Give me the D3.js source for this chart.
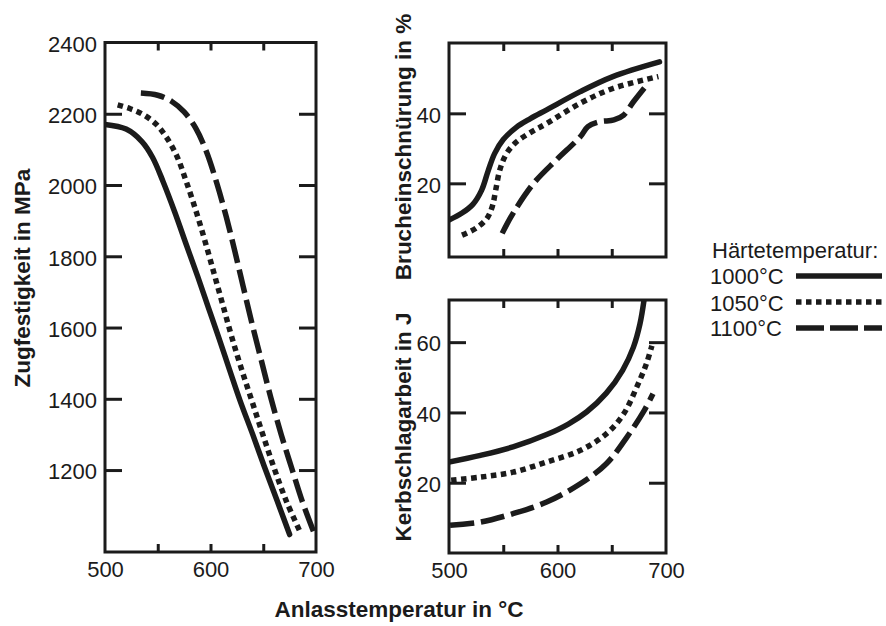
<!DOCTYPE html>
<html><head><meta charset="utf-8">
<script src="https://cdn.jsdelivr.net/npm/d3@7"></script>
<style>
html,body{margin:0;padding:0;background:#fff;}
svg{display:block;font-family:"Liberation Sans",Arial,sans-serif;}
</style></head>
<body>
<svg id="c" width="886" height="626"></svg>
<script>
// ---- data ----
const seriesNames = ["1000°C", "1050°C", "1100°C"];
const legendTitle = "Härtetemperatur:";
const xTitle = "Anlasstemperatur in °C";
const zugTitle = "Zugfestigkeit in MPa";
const bruchTitle = "Brucheinschnürung in %";
const kerbTitle = "Kerbschlagarbeit in J";

const xLabelTicks = [500, 600, 700];
const xMinorTicks = [550, 600, 650];
const zugTicks = [2400, 2200, 2000, 1800, 1600, 1400, 1200];
const bruchTicks = [20, 40];
const kerbTicks = [20, 40, 60];

// Zugfestigkeit (MPa) vs Anlasstemperatur
const zug1000 = [[500,2170],[520,2157],[535,2122],[545,2078],[555,2010],[566,1925],[577,1833],[588,1742],[598,1656],[608,1570],[618,1482],[628,1395],[640,1300],[651,1210],[663,1115],[675,1019]];
const zug1050 = [[512,2225],[524,2214],[536,2198],[548,2172],[558,2135],[568,2082],[577,2010],[587,1920],[596,1830],[604,1745],[612,1660],[620,1575],[629,1487],[639,1396],[649,1305],[660,1208],[672,1112],[686,1020]];
const zug1100 = [[534,2258],[550,2252],[563,2235],[575,2205],[586,2160],[596,2095],[606,2005],[615,1910],[623,1815],[631,1715],[639,1615],[648,1510],[657,1405],[667,1300],[677,1205],[687,1112],[698,1025]];

// Brucheinschnürung (%)
const bruch1000 = [[500,9.5],[512,11.5],[522,14],[530,18],[536,23.5],[542,28.5],[550,32.5],[562,36],[575,38.5],[590,41],[621,46.2],[651,50.5],[694,54.7]];
const bruch1050 = [[512,5.2],[525,7.2],[535,10],[540,13.5],[543,18],[547,24],[553,28.5],[562,31.8],[575,34.5],[590,37.1],[621,42.9],[651,47.1],[693,50.5]];
const bruch1100 = [[549,5.7],[559,11.4],[578,20],[599,26.7],[621,33.3],[628,36.2],[639,37.6],[652,38.1],[661,39.5],[670,43.3],[681,47.6]];

// Kerbschlagarbeit (J)
const kerb1000 = [[500,25.9],[529,27.8],[559,30.2],[590,33.7],[610,36.7],[627,40.2],[645,45.5],[660,52],[670,58.6],[676,65.2],[680,72.5]];
const kerb1050 = [[502,20.7],[529,21.6],[559,23],[590,25.9],[621,29.2],[645,33.9],[661,39.6],[673,47.2],[682,53.9],[687,59]];
const kerb1100 = [[501,7.9],[529,8.8],[559,11.2],[590,14.5],[621,19.7],[645,25.4],[664,33],[680,40.6],[688,45.3]];

// ---- styles ----
const INK = "#1b1b1b";
const styles = [
  {dash: null, cap: "round"},
  {dash: "5.5,4.5", cap: "butt"},
  {dash: "24,7", cap: "butt"}
];
const LW = 5.5;

const svg = d3.select("#c");

function panel(id, x0, x1, y0, y1, yDomain, yTicks, showXLabels, series) {
  const x = d3.scaleLinear().domain([500, 700]).range([x0, x1]);
  const y = d3.scaleLinear().domain(yDomain).range([y1, y0]);
  const g = svg.append("g");

  svg.append("clipPath").attr("id", "clip" + id)
    .append("rect").attr("x", x0).attr("y", y0).attr("width", x1 - x0).attr("height", y1 - y0);

  // curves
  const line = d3.line().x(d => x(d[0])).y(d => y(d[1])).curve(d3.curveCatmullRom.alpha(0.5));
  series.forEach((s, i) => {
    g.append("path").attr("d", line(s))
      .attr("clip-path", "url(#clip" + id + ")")
      .attr("fill", "none").attr("stroke", INK).attr("stroke-width", LW)
      .attr("stroke-linecap", styles[i].cap).attr("stroke-linejoin", "round")
      .attr("stroke-dasharray", styles[i].dash);
  });

  // axes (inward ticks)
  const innerY = yTicks.filter(t => y(t) > y0 + 2 && y(t) < y1 - 2);
  const left = g.append("g").attr("transform", `translate(${x0},0)`)
    .call(d3.axisLeft(y).tickValues(yTicks).tickSize(0).tickPadding(8).tickFormat(d3.format("d")));
  left.selectAll("text").attr("font-size", 22).attr("fill", INK).attr("dy", "0.4em")
    .attr("font-family", "'Liberation Sans', Arial, sans-serif");
  g.append("g").attr("transform", `translate(${x0},0)`)
    .call(d3.axisLeft(y).tickValues(innerY).tickSize(-17).tickFormat(""));
  g.append("g").attr("transform", `translate(${x1},0)`)
    .call(d3.axisRight(y).tickValues(innerY).tickSize(-17).tickFormat(""));
  g.append("g").attr("transform", `translate(0,${y1})`)
    .call(d3.axisBottom(x).tickValues(xMinorTicks).tickSize(-8).tickFormat(""));
  g.append("g").attr("transform", `translate(0,${y0})`)
    .call(d3.axisTop(x).tickValues(xMinorTicks).tickSize(-8).tickFormat(""));
  if (showXLabels) {
    const b = g.append("g").attr("transform", `translate(0,${y1})`)
      .call(d3.axisBottom(x).tickValues(xLabelTicks).tickSize(0).tickPadding(9).tickFormat(d3.format("d")));
    b.selectAll("text").attr("font-size", 22).attr("fill", INK)
      .attr("font-family", "'Liberation Sans', Arial, sans-serif");
  }
  g.selectAll(".domain").remove();
  g.selectAll(".tick line").attr("stroke", INK).attr("stroke-width", 3);

  // frame
  g.append("rect").attr("x", x0).attr("y", y0).attr("width", x1 - x0).attr("height", y1 - y0)
    .attr("fill", "none").attr("stroke", INK).attr("stroke-width", 3);
  return {x, y};
}

panel("zug", 105, 316, 42.5, 552, [970, 2400], zugTicks, true, [zug1000, zug1050, zug1100]);
panel("bruch", 449, 666, 43, 257, [-1.05, 60.1], bruchTicks, false, [bruch1000, bruch1050, bruch1100]);
panel("kerb", 449, 666, 300, 553, [0, 72], kerbTicks, true, [kerb1000, kerb1050, kerb1100]);

// titles
function title(txt, x, y, rot) {
  svg.append("text").text(txt)
    .attr("transform", `translate(${x},${y}) rotate(${rot})`)
    .attr("text-anchor", "middle").attr("font-weight", "bold").attr("font-size", 22.5)
    .attr("fill", INK);
}
title(xTitle, 399, 617, 0);
title(zugTitle, 30, 278, -90);
title(bruchTitle, 411, 147, -90);
title(kerbTitle, 411, 427, -90);

// legend
const lg = svg.append("g");
lg.append("text").text(legendTitle).attr("x", 712).attr("y", 258).attr("font-size", 22).attr("fill", INK);
const legendY = [276, 302, 328];
const legendBase = [284, 310.5, 336];
seriesNames.forEach((n, i) => {
  lg.append("text").text(n).attr("x", 710).attr("y", legendBase[i]).attr("font-size", 22).attr("fill", INK);
  lg.append("line").attr("x1", 796).attr("x2", 882).attr("y1", legendY[i]).attr("y2", legendY[i])
    .attr("stroke", INK).attr("stroke-width", LW)
    .attr("stroke-dasharray", i === 2 ? "28,6" : styles[i].dash);
});
</script>
</body></html>
